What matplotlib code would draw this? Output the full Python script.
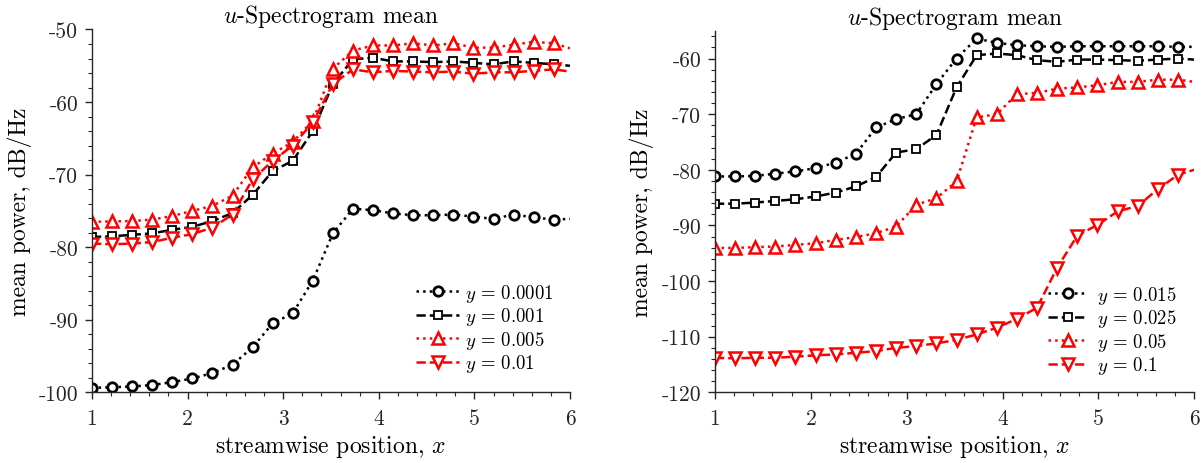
import numpy as np
import matplotlib
matplotlib.use("Agg")
import matplotlib.pyplot as plt
from matplotlib.ticker import MultipleLocator
import warnings

warnings.filterwarnings("ignore")
plt.rcParams["font.family"] = "cmr10"
plt.rcParams["mathtext.fontset"] = "cm"
plt.rcParams["axes.unicode_minus"] = False
plt.rcParams["axes.formatter.use_mathtext"] = False

# streamwise stations where markers are drawn, plus the domain end
x_stations = [1.00, 1.21, 1.42, 1.63, 1.84, 2.05, 2.26, 2.47, 2.68, 2.89, 3.10, 3.31,
              3.52, 3.73, 3.94, 4.15, 4.36, 4.57, 4.78, 4.99, 5.20, 5.41, 5.62, 5.83, 6.00]

# left panel: near-wall heights
left_labels = ["0.0001", "0.001", "0.005", "0.01"]
p_y0001 = [-99.4, -99.3, -99.2, -99.0, -98.6, -98.1, -97.35, -96.2, -93.8, -90.5, -89.1, -84.6,
           -78.1, -74.7, -74.9, -75.35, -75.6, -75.6, -75.5, -75.8, -76.1, -75.5, -75.9, -76.2, -76.1]
p_y001 = [-78.6, -78.5, -78.3, -78.1, -77.6, -77.2, -76.4, -75.3, -72.8, -69.5, -68.1, -64.0,
          -57.5, -54.1, -53.9, -54.4, -54.4, -54.5, -54.4, -54.6, -54.8, -54.4, -54.6, -54.8, -55.0]
p_y005 = [-76.5, -76.45, -76.4, -76.2, -75.7, -75.0, -74.3, -72.9, -69.0, -67.1, -65.5, -62.6,
          -55.4, -52.9, -52.2, -52.2, -51.9, -52.2, -51.9, -52.5, -52.5, -52.1, -51.7, -51.9, -52.6]
p_y01 = [-79.5, -79.6, -79.5, -79.3, -78.7, -78.2, -77.3, -75.5, -70.65, -68.1, -66.0, -62.8,
         -57.5, -55.5, -55.9, -55.7, -55.8, -55.9, -55.8, -56.1, -55.9, -55.9, -55.7, -55.5, -55.8]

# right panel: outer heights
right_labels = ["0.015", "0.025", "0.05", "0.1"]
p_y015 = [-81.2, -81.2, -81.1, -80.7, -80.3, -79.7, -78.7, -77.15, -72.4, -70.9, -70.0, -64.6,
          -60.0, -56.4, -57.2, -57.6, -57.8, -57.9, -57.8, -57.8, -57.8, -57.8, -57.8, -57.9, -57.9]
p_y025 = [-86.1, -86.1, -85.9, -85.6, -85.3, -84.8, -84.1, -83.0, -81.3, -76.9, -76.3, -73.75,
          -65.2, -59.4, -59.1, -59.4, -60.3, -60.6, -60.2, -60.2, -60.3, -60.4, -60.2, -60.0, -60.2]
p_y05 = [-94.05, -94.05, -93.9, -93.8, -93.5, -93.2, -92.6, -92.1, -91.4, -90.2, -86.3, -85.1,
         -82.1, -70.6, -70.0, -66.4, -66.2, -65.4, -65.2, -64.8, -64.2, -64.2, -63.8, -63.8, -64.2]
p_y1 = [-113.8, -113.9, -113.8, -113.8, -113.6, -113.35, -113.2, -112.9, -112.6, -112.0, -111.7, -111.2,
        -110.6, -109.6, -108.4, -106.8, -104.8, -97.6, -91.85, -89.9, -87.5, -86.5, -83.5, -80.9, -80.0]

styles = [
    dict(color="black", ls=":", marker="o", ms=6.8, mew=2.0),
    dict(color="black", ls="--", marker="s", ms=5.5, mew=1.3),
    dict(color="red", ls=":", marker="^", ms=8.8, mew=1.8),
    dict(color="red", ls="--", marker="v", ms=8.8, mew=1.8),
]

TICK_FS = 15.5
LABEL_FS = 17
LEG_FS = 13.5

fig = plt.figure(figsize=(12.01, 4.64), dpi=100)
ax1 = fig.add_axes([0.0766, 0.1524, 0.398, 0.7819])
ax2 = fig.add_axes([0.5953, 0.1524, 0.3991, 0.7793])


def draw(ax, series, labels, ylim, yticks, leg_anchor, handlelen, textpad):
    nmark = len(x_stations) - 1
    for vals, lab, st in zip(series, labels, styles):
        ax.plot(x_stations, vals, color=st["color"], ls=st["ls"], lw=1.8,
                marker=st["marker"], ms=st["ms"], mew=st["mew"],
                mfc="white", mec=st["color"], markevery=list(range(nmark)),
                label=r"$y\,=\," + lab + "$")
    ax.set_xlim(1, 6)
    ax.set_ylim(*ylim)
    ax.set_xticks([1, 2, 3, 4, 5, 6])
    ax.set_yticks(yticks)
    ax.xaxis.set_minor_locator(MultipleLocator(0.2))
    ax.yaxis.set_minor_locator(MultipleLocator(2))
    for s in ("top", "right"):
        ax.spines[s].set_visible(False)
    for s in ("left", "bottom"):
        ax.spines[s].set_color("#262626")
        ax.spines[s].set_linewidth(1.0)
    ax.tick_params(which="major", direction="out", length=5, width=1.0,
                   labelsize=TICK_FS, color="#262626", labelcolor="#262626")
    ax.tick_params(axis="x", which="major", pad=7)
    ax.tick_params(axis="y", which="major", pad=5)
    ax.tick_params(which="minor", direction="out", length=3, width=0.8, color="#262626")
    ax.set_xlabel("streamwise position, $x$", fontsize=LABEL_FS, labelpad=3)
    ax.set_ylabel("mean power, dB/Hz", fontsize=LABEL_FS, labelpad=5)
    ax.set_title("$u$-Spectrogram mean", fontsize=LABEL_FS, pad=4)
    ax.legend(loc="upper left", bbox_to_anchor=leg_anchor, frameon=False,
              fontsize=LEG_FS, handlelength=handlelen, handletextpad=textpad,
              labelspacing=0.08, borderpad=0, borderaxespad=0)


draw(ax1, [p_y0001, p_y001, p_y005, p_y01], left_labels,
     (-100, -50), [-100, -90, -80, -70, -60, -50], (0.678, 0.305), 2.3, 0.3)
draw(ax2, [p_y015, p_y025, p_y05, p_y1], right_labels,
     (-120, -55), [-120, -110, -100, -90, -80, -70, -60], (0.695, 0.30), 2.1, 0.5)

fig.savefig("out.png", dpi=100)
